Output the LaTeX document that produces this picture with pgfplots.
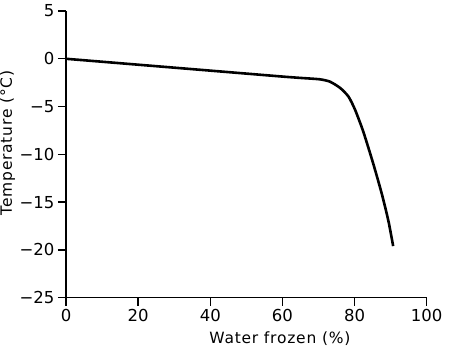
\documentclass[border=0pt]{standalone}
\usepackage{fontspec}
\setmainfont{DejaVu Sans}
\newfontfamily\labfont[LetterSpace=5]{DejaVu Sans}
\usepackage{pgfplots}
\pgfplotsset{compat=1.18}
\begin{document}
\begin{tikzpicture}
\begin{axis}[
  scale only axis,
  width=360.7pt, height=286.7pt,
  xmin=0, xmax=100, ymin=-25, ymax=5,
  axis x line=bottom, axis y line=left,
  axis line style={line width=1.6pt, -},
  every tick/.style={line width=1.4pt, black},
  tick align=outside,
  major tick length=8pt,
  xtick={0,20,40,60,80,100},
  ytick={-25,-20,-15,-10,-5,0,5},
  yticklabels={−25,−20,−15,−10,−5,0,5},
  /pgf/number format/assume math mode=true,
  tick label style={font=\fontsize{16.5}{18}\selectfont},
  xlabel={Water frozen (\%)},
  ylabel={Temperature (°C)},
  xlabel style={font=\labfont\fontsize{15.5}{17}\selectfont, at={(axis description cs:0.593,-0.144)}, anchor=center},
  ylabel style={font=\labfont\fontsize{15.5}{17}\selectfont, at={(axis description cs:-0.162,0.54)}, anchor=center, rotate=0},
  clip=false,
]
\addplot[black, line width=2.6pt, smooth, tension=0.4] coordinates {
(0,0) (20,-0.62) (40,-1.24) (59.3,-1.84) (64.9,-2.0) (70.4,-2.15) (73.2,-2.4) (76,-3.05) (78.3,-3.95) (80.1,-5.3) (82.4,-7.6) (85.2,-11.0) (87.6,-14.2) (89.4,-17.0) (90.7,-19.6)
};
\end{axis}
\pgfresetboundingbox
\path ([shift={(-66pt,-56.3pt)}]current axis.south west) rectangle ([shift={(22.3pt,11pt)}]current axis.north east);
\end{tikzpicture}
\end{document}
